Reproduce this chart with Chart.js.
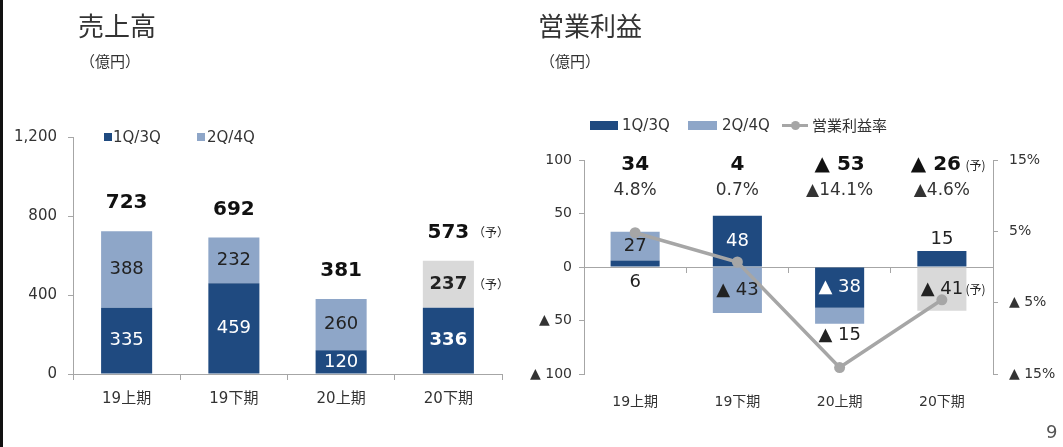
<!DOCTYPE html>
<html><head><meta charset="utf-8">
<script src="https://cdn.jsdelivr.net/npm/chart.js@4.4.1/dist/chart.umd.min.js"></script>
<style>
html,body{margin:0;padding:0;background:#fff;}
body{width:1063px;height:447px;position:relative;overflow:hidden;font-family:"DejaVu Sans","Noto Sans CJK JP",sans-serif;color:#222;}
.abs{position:absolute;white-space:nowrap;line-height:1;}
.cjk{font-family:"Noto Sans CJK JP",sans-serif;}
canvas{position:absolute;top:0;}
.sw{display:inline-block;position:absolute;}
</style></head><body>
<div class="abs" style="left:0;top:0;width:3px;height:447px;background:#111;"></div>
<canvas id="c1" width="520" height="447" style="left:0;"></canvas>
<canvas id="c2" width="543" height="447" style="left:520px;"></canvas>

<div class="abs cjk" style="left:78px;top:12px;font-size:26px;color:#333;">売上高</div>
<div class="abs cjk" style="left:80px;top:53px;font-size:15px;color:#333;">（億円）</div>
<div class="abs cjk" style="left:538px;top:12px;font-size:26px;color:#333;">営業利益</div>
<div class="abs cjk" style="left:540px;top:53px;font-size:15px;color:#333;">（億円）</div>

<div id="leg1"></div>
<div id="leg2"></div>
<div class="abs" style="left:1046px;top:423px;font-size:18px;color:#555;">9</div>

<script>
// ---- data ----
const categories = ['19上期', '19下期', '20上期', '20下期'];
const forecast = [false, false, false, true];
const salesQ13 = [335, 459, 120, 336];
const salesQ24 = [388, 232, 260, 237];
const salesTotal = [723, 692, 381, 573];
const salesTicks = [0, 400, 800, 1200];
const profitQ13 = [6, 48, -38, 15];
const profitQ24 = [27, -43, -15, -41];
const profitTotal = [34, 4, -53, -26];
const marginPct = [4.8, 0.7, -14.1, -4.6];
const profitTicks = [-100, -50, 0, 50, 100];
const pctTicks = [-15, -5, 5, 15];
const seriesNames = ['1Q/3Q', '2Q/4Q', '営業利益率'];
const forecastMark = '予';

// ---- style ----
const FONT = '"DejaVu Sans", "Noto Sans CJK JP", sans-serif';
const NAVY = '#1F4A80';
const LIGHT = '#8EA6C8';
const GRAY = '#D9D9D9';
const LINE = '#A6A6A6';
const AXIS = '#A6A6A6';
const TXT = '#222';

const fmt = v => v < 0 ? '▲ ' + Math.abs(v) : String(v);
const fmtPct = v => (v < 0 ? '▲' : '') + Math.abs(v).toFixed(1) + '%';

// ---- legends (HTML) ----
document.getElementById('leg1').innerHTML =
  `<span class="sw" style="left:104px;top:133px;width:8px;height:8px;background:${NAVY}"></span>` +
  `<span class="abs" style="left:113px;top:130px;font-size:15px;color:#333">${seriesNames[0]}</span>` +
  `<span class="sw" style="left:197px;top:133px;width:8px;height:8px;background:${LIGHT}"></span>` +
  `<span class="abs" style="left:207px;top:130px;font-size:15px;color:#333">${seriesNames[1]}</span>`;
document.getElementById('leg2').innerHTML =
  `<span class="sw" style="left:590px;top:121px;width:28px;height:9px;background:${NAVY}"></span>` +
  `<span class="abs" style="left:622px;top:118px;font-size:15px;color:#333">${seriesNames[0]}</span>` +
  `<span class="sw" style="left:688px;top:121px;width:29px;height:9px;background:${LIGHT}"></span>` +
  `<span class="abs" style="left:722px;top:118px;font-size:15px;color:#333">${seriesNames[1]}</span>` +
  `<span class="sw" style="left:782px;top:124px;width:26px;height:3px;background:${LINE}"></span>` +
  `<span class="sw" style="left:791px;top:121px;width:9px;height:9px;border-radius:50%;background:${LINE}"></span>` +
  `<span class="abs cjk" style="left:812px;top:117px;font-size:15px;color:#333">${seriesNames[2]}</span>`;

// ---- left chart ----
const salesLabels = {
  id: 'salesLabels',
  afterDatasetsDraw(chart) {
    const ctx = chart.ctx;
    const m0 = chart.getDatasetMeta(0), m1 = chart.getDatasetMeta(1);
    ctx.save();
    ctx.textBaseline = 'middle';
    categories.forEach((c, i) => {
      const a = m0.data[i], b = m1.data[i];
      const f = forecast[i];
      ctx.textAlign = 'center';
      ctx.font = (f ? 'bold ' : '') + '18px ' + FONT;
      ctx.fillStyle = '#fff';
      ctx.fillText(fmt(salesQ13[i]), a.x, (a.y + a.base) / 2);
      ctx.fillStyle = TXT;
      const yb = (b.y + b.base) / 2;
      ctx.fillText(fmt(salesQ24[i]), b.x, yb);
      ctx.font = 'bold 20px ' + FONT;
      ctx.fillStyle = '#111';
      const yt = Math.min(a.y, b.y) - 28;
      ctx.fillText(fmt(salesTotal[i]), b.x, yt);
      if (f) {
        ctx.textAlign = 'left';
        ctx.font = '12px "Noto Sans CJK JP", sans-serif';
        ctx.fillStyle = TXT;
        const rx = b.x + b.width / 2 - 1;
        ctx.fillText('（' + forecastMark + '）', rx, yt);
        ctx.fillText('（' + forecastMark + '）', rx, yb);
      }
    });
    ctx.restore();
  }
};

new Chart(document.getElementById('c1'), {
  type: 'bar',
  data: {
    labels: categories,
    datasets: [
      { label: seriesNames[0], data: salesQ13, backgroundColor: NAVY },
      { label: seriesNames[1], data: salesQ24, backgroundColor: forecast.map(f => f ? GRAY : LIGHT) }
    ]
  },
  options: {
    responsive: false, animation: false,
    layout: { padding: { left: 0, right: 18, top: 137, bottom: 33 } },
    plugins: { legend: { display: false }, tooltip: { enabled: false } },
    datasets: { bar: { categoryPercentage: 1, barPercentage: 0.476 } },
    scales: {
      x: {
        stacked: true,
        grid: { display: true, drawOnChartArea: false, drawTicks: true, tickLength: 6, color: AXIS, offset: true },
        border: { display: true, color: AXIS },
        ticks: { font: { family: FONT, size: 15 }, color: '#333', padding: 10 },
        afterFit: s => { s.height = 40; }
      },
      y: {
        stacked: true, min: salesTicks[0], max: salesTicks[salesTicks.length - 1],
        afterBuildTicks: s => { s.ticks = salesTicks.map(v => ({ value: v })); },
        grid: { drawOnChartArea: false, drawTicks: true, tickLength: 5, color: AXIS },
        border: { display: true, color: AXIS },
        ticks: { font: { family: FONT, size: 15 }, color: '#333', padding: 11, callback: v => v.toLocaleString('en-US') },
        afterFit: s => { s.width = 73; }
      }
    }
  },
  plugins: [salesLabels]
});

// ---- right chart ----
const profitLabels = {
  id: 'profitLabels',
  afterDatasetsDraw(chart) {
    const ctx = chart.ctx;
    const ca = chart.chartArea;
    const m1 = chart.getDatasetMeta(1), m2 = chart.getDatasetMeta(2);
    ctx.save();
    ctx.textBaseline = 'middle';
    ctx.textAlign = 'center';
    const seg = (el, v, other, inside) => {
      const h = Math.abs(el.base - el.y);
      ctx.font = '18px ' + FONT;
      if (h >= 24) {
        ctx.fillStyle = inside;
        ctx.fillText(fmt(v), el.x, (el.y + el.base) / 2);
      } else {
        ctx.fillStyle = TXT;
        let y;
        if (v > 0 && other > 0) y = el.base + 16;
        else if (v > 0) y = el.y - 12;
        else y = el.y + 12;
        ctx.fillText(fmt(v), el.x, y);
      }
    };
    categories.forEach((c, i) => {
      const a = m1.data[i], b = m2.data[i];
      seg(a, profitQ13[i], profitQ24[i], '#fff');
      seg(b, profitQ24[i], 0, TXT);
      const f = forecast[i];
      const x = a.x;
      ctx.textAlign = 'center';
      ctx.font = 'bold 20px ' + FONT;
      ctx.fillStyle = '#111';
      ctx.fillText(fmt(profitTotal[i]), x - (f ? 6 : 0), ca.top + 5);
      ctx.font = '17px ' + FONT;
      ctx.fillStyle = '#333';
      ctx.fillText(fmtPct(marginPct[i]), x, ca.top + 31);
      if (f) {
        ctx.textAlign = 'left';
        ctx.font = '12px "Noto Sans CJK JP", sans-serif';
        ctx.fillStyle = TXT;
        const rx = b.x + b.width / 2 - 1;
        ctx.fillText('(' + forecastMark + ')', rx, ca.top + 5);
        ctx.fillText('(' + forecastMark + ')', rx, (b.y + b.base) / 2);
      }
      ctx.textAlign = 'center';
    });
    ctx.restore();
  }
};

new Chart(document.getElementById('c2'), {
  type: 'bar',
  data: {
    labels: categories,
    datasets: [
      { type: 'line', label: seriesNames[2], data: marginPct, yAxisID: 'y2', xAxisID: 'x',
        borderColor: LINE, backgroundColor: LINE, borderWidth: 3.5, pointRadius: 5.5,
        pointBackgroundColor: LINE, pointBorderColor: LINE, pointBorderWidth: 0, tension: 0, order: 0 },
      { label: seriesNames[0], data: profitQ13, backgroundColor: NAVY, yAxisID: 'y', xAxisID: 'x', order: 1 },
      { label: seriesNames[1], data: profitQ24, backgroundColor: forecast.map(f => f ? GRAY : LIGHT), yAxisID: 'y', xAxisID: 'x', order: 1 }
    ]
  },
  options: {
    responsive: false, animation: false,
    layout: { padding: { left: 0, right: 0, top: 160, bottom: 33 } },
    plugins: { legend: { display: false }, tooltip: { enabled: false } },
    datasets: { bar: { categoryPercentage: 1, barPercentage: 0.48 } },
    scales: {
      x: {
        stacked: true,
        grid: { display: false, drawTicks: false },
        border: { display: false },
        ticks: { font: { family: FONT, size: 14 }, color: '#333', padding: 20 },
        afterFit: s => { s.height = 40; }
      },
      xz: {
        axis: 'x', type: 'category', labels: categories, position: { y: 0 }, offset: true,
        grid: { offset: true, drawOnChartArea: false, drawTicks: true, tickLength: 5, color: AXIS },
        border: { display: true, color: AXIS },
        ticks: { display: false }
      },
      y: {
        stacked: true, position: 'left', min: profitTicks[0], max: profitTicks[profitTicks.length - 1],
        afterBuildTicks: s => { s.ticks = profitTicks.map(v => ({ value: v })); },
        grid: { drawOnChartArea: false, drawTicks: true, tickLength: 5, color: AXIS },
        border: { display: true, color: AXIS },
        ticks: { font: { family: FONT, size: 14 }, color: '#333', padding: 7, callback: v => fmt(v) },
        afterFit: s => { s.width = 64; }
      },
      y2: {
        position: 'right', min: pctTicks[0], max: pctTicks[pctTicks.length - 1],
        afterBuildTicks: s => { s.ticks = pctTicks.map(v => ({ value: v })); },
        grid: { drawOnChartArea: false, drawTicks: true, tickLength: 5, color: AXIS },
        border: { display: true, color: AXIS },
        ticks: { font: { family: FONT, size: 14 }, color: '#333', padding: 11, callback: v => (v < 0 ? '▲ ' : '') + Math.abs(v) + '%' },
        afterFit: s => { s.width = 70; }
      }
    }
  },
  plugins: [profitLabels]
});
</script>
</body></html>
